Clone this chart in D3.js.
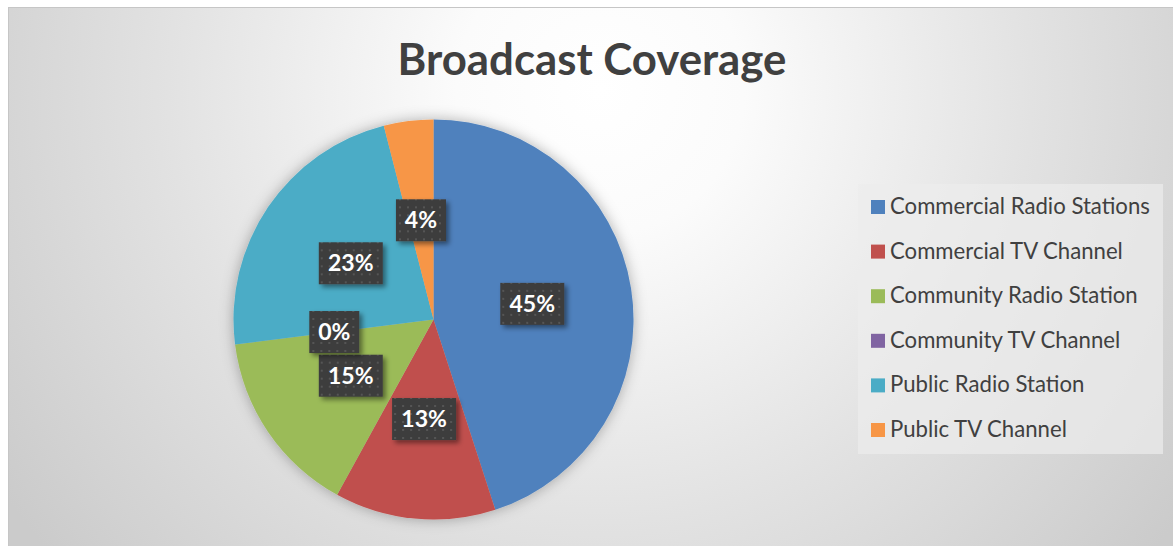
<!DOCTYPE html>
<html><head><meta charset="utf-8">
<script src="https://d3js.org/d3.v7.min.js"></script>
<style>html,body{margin:0;padding:0;background:#fff;overflow:hidden}</style>
</head><body>
<svg id="c" width="1173" height="546"></svg>
<script>
const title = "Broadcast Coverage";
const categories = ["Commercial Radio Stations","Commercial TV Channel","Community Radio Station","Community TV Channel","Public Radio Station","Public TV Channel"];
const values = [45,13,15,0,23,4];
const colors = ["#4f81bd","#c0504d","#9bbb59","#8064a2","#4bacc6","#f79646"];

const W=1173,H=546;
const svg=d3.select("#c");
const defs=svg.append("defs");
const bg=defs.append("radialGradient").attr("id","bg").attr("gradientUnits","userSpaceOnUse")
  .attr("cx",600).attr("cy",90).attr("r",720);
[[0,"#ffffff"],[0.2,"#fbfbfb"],[0.6,"#e2e2e2"],[1,"#cbcbcb"]].forEach(s=>bg.append("stop").attr("offset",s[0]).attr("stop-color",s[1]));
const sh=defs.append("filter").attr("id","psh").attr("x","-20%").attr("y","-20%").attr("width","140%").attr("height","140%");
sh.append("feDropShadow").attr("dx",0).attr("dy",0).attr("stdDeviation",7).attr("flood-color","#000").attr("flood-opacity",0.3);
const ls=defs.append("filter").attr("id","lsh").attr("x","-30%").attr("y","-30%").attr("width","160%").attr("height","160%");
ls.append("feDropShadow").attr("dx",3).attr("dy",3).attr("stdDeviation",2.5).attr("flood-color","#000").attr("flood-opacity",0.45);
const pat=defs.append("pattern").attr("id","dots").attr("patternUnits","userSpaceOnUse").attr("width",8).attr("height",8);
pat.append("rect").attr("width",8).attr("height",8).attr("fill","#3d3d3d");
pat.append("rect").attr("x",2).attr("y",2).attr("width",2).attr("height",2).attr("fill","#555");

svg.append("rect").attr("x",8.5).attr("y",7.5).attr("width",W).attr("height",H).attr("fill","url(#bg)").attr("stroke","#c6c6c6");

// title
const t=svg.append("text").attr("x",592).attr("y",75).attr("text-anchor","middle")
  .attr("font-family","Lato, 'Open Sans', sans-serif").attr("font-weight","bold").attr("font-size",40).attr("fill","#404040").text(title);
const tw=t.node().getComputedTextLength(); t.attr("font-size",40*389/tw);

// pie
const cx=433.5, cy=319.5, R=200;
const pie=d3.pie().sort(null).value(d=>d)(values);
const arc=d3.arc().innerRadius(0).outerRadius(R);
const g=svg.append("g").attr("transform",`translate(${cx},${cy})`);
g.append("g").attr("filter","url(#psh)").selectAll("path").data(pie).join("path")
  .attr("d",arc).attr("fill",(d,i)=>colors[i]);

const lab=d3.arc().innerRadius(R/2).outerRadius(R/2);
const lg=g.selectAll("g.lab").data(pie).join("g").attr("class","lab")
  .attr("transform",d=>{const c=lab.centroid(d);return `translate(${c[0]},${c[1]})`;});
lg.each(function(d){
  const s=d3.select(this);
  const txt=d.data+"%";
  const w=txt.length>2?64:50;
  s.append("rect").attr("x",-w/2).attr("y",-21).attr("width",w).attr("height",42).attr("fill","url(#dots)").attr("filter","url(#lsh)");
  s.append("text").attr("text-anchor","middle").attr("y",8).attr("font-family","Lato, 'Open Sans', sans-serif")
   .attr("font-weight","bold").attr("font-size",23).attr("fill","#fff").text(txt);
});

// legend
svg.append("rect").attr("x",858).attr("y",184).attr("width",305).attr("height",270).attr("fill","#ececec").attr("opacity",0.7);
const ly=d3.scalePoint().domain(categories).range([207,430]);
const le=svg.append("g").selectAll("g").data(categories).join("g").attr("transform",d=>`translate(871,${ly(d)})`);
le.append("rect").attr("x",0).attr("y",-7).attr("width",14).attr("height",14).attr("fill",(d,i)=>colors[i]);
const lt=le.append("text").attr("x",19).attr("y",7).attr("font-family","Lato, 'Open Sans', sans-serif")
  .attr("font-size",20).attr("fill","#404040").text(d=>d);
const w0=lt.nodes()[0].getComputedTextLength(); lt.attr("font-size",20*260/w0);
</script>
</body></html>
